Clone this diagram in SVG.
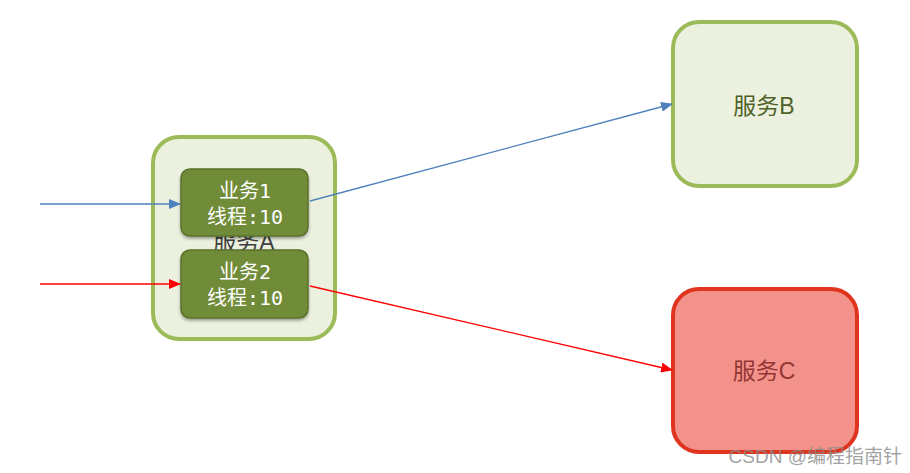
<svg xmlns="http://www.w3.org/2000/svg" width="910" height="473" viewBox="0 0 910 473">
<defs>
<marker id="ab" markerWidth="12" markerHeight="10" refX="11" refY="5" orient="auto" markerUnits="userSpaceOnUse"><path d="M0,0 L12,5 L0,10 Z" fill="#4f81bd"/></marker>
<marker id="ar" markerWidth="12" markerHeight="10" refX="11" refY="5" orient="auto" markerUnits="userSpaceOnUse"><path d="M0,0 L12,5 L0,10 Z" fill="#ff0000"/></marker>
<filter id="sh" x="-10%" y="-10%" width="120%" height="130%"><feDropShadow dx="0" dy="2" stdDeviation="1.5" flood-color="#000" flood-opacity="0.35"/></filter>
</defs>
<style>
.svc{fill:#ebf1de;stroke:#9bbb59;stroke-width:4}
.svcC{fill:#f3928a;stroke:#e0341f;stroke-width:4}
.inner{fill:#718c38;stroke:#5a712c;stroke-width:1.5;filter:url(#sh)}
.t{font-family:"Liberation Sans","Noto Sans CJK SC",sans-serif;font-size:23px;text-anchor:middle}
.w{font-family:"DejaVu Sans Mono","Noto Sans CJK SC",monospace;font-size:20px;fill:#ffffff;text-anchor:middle}
.blue{stroke:#4f81bd;stroke-width:1.3;fill:none}
.red{stroke:#ff0000;stroke-width:1.3;fill:none}
</style>
<rect width="910" height="473" fill="#ffffff"/>
<g id="serviceA">
<rect class="svc" x="153" y="137" width="182" height="202" rx="26" stroke-width="3.5"/>
<text class="t" x="244" y="250" fill="#404040" font-size="21">服务A</text>
</g>
<g id="task1">
<rect class="inner" x="181" y="169" width="127" height="67" rx="9"/>
<text class="w" x="245" y="198">业务1</text>
<text class="w" x="245" y="224">线程:10</text>
</g>
<g id="task2">
<rect class="inner" x="181" y="250" width="127" height="68" rx="9"/>
<text class="w" x="245" y="279">业务2</text>
<text class="w" x="245" y="305">线程:10</text>
</g>
<g id="serviceB">
<rect class="svc" x="673" y="22" width="184" height="164" rx="26"/>
<text class="t" x="764" y="114" fill="#4f6228">服务B</text>
</g>
<g id="serviceC">
<rect class="svcC" x="673" y="289" width="184" height="163" rx="26"/>
<text class="t" x="764" y="379" fill="#943634">服务C</text>
</g>
<g id="connectors">
<line class="blue" x1="40" y1="204" x2="180" y2="204" marker-end="url(#ab)"/>
<line class="blue" x1="310" y1="201" x2="672" y2="104" marker-end="url(#ab)"/>
<line class="red" x1="40" y1="284" x2="180" y2="284" marker-end="url(#ar)"/>
<line class="red" x1="310" y1="286" x2="672" y2="370" marker-end="url(#ar)"/>
</g>
<text x="902" y="463" font-family="Liberation Sans,'Noto Sans CJK SC',sans-serif" font-size="19" fill="#8a8a8a" fill-opacity="0.8" text-anchor="end">CSDN @编程指南针</text>
</svg>
